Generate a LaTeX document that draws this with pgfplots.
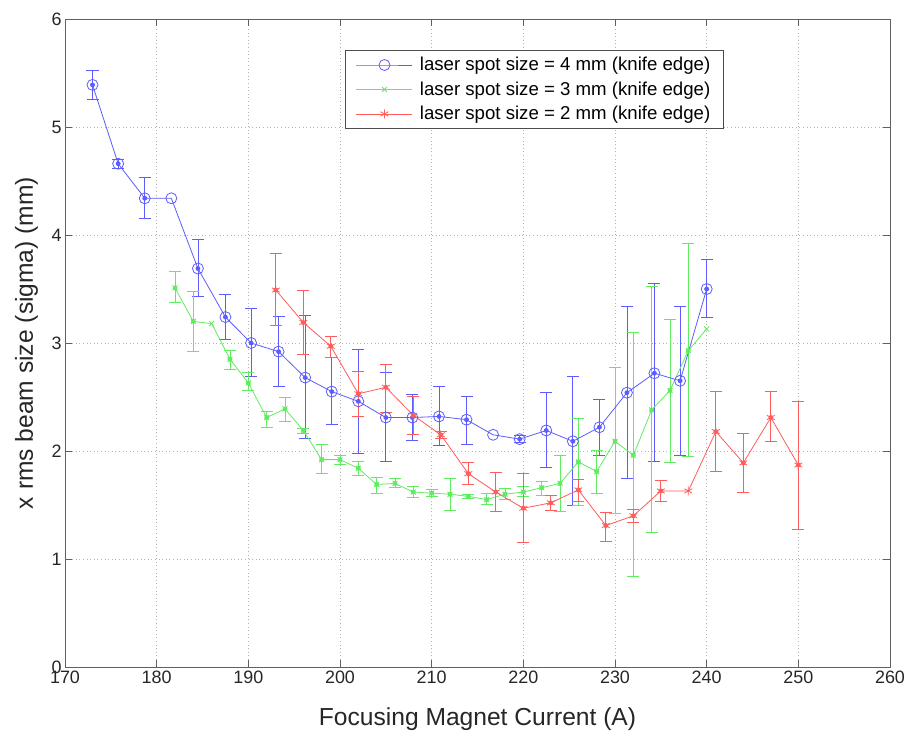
\documentclass[border=0pt]{standalone}
\usepackage{pgfplots}
\usepackage{pgfplotstable}
\pgfplotsset{compat=1.18}
\usepackage{fontspec}
\setmainfont{Liberation Sans}

\definecolor{mblue}{rgb}{0.36,0.36,1}
\definecolor{mgreen}{rgb}{0.38,0.92,0.38}
\definecolor{mred}{rgb}{1,0.36,0.36}

% x y (all points)
\pgfplotstableread{
x y
173 5.39
175.8 4.66
178.7 4.34
181.6 4.34
184.5 3.69
187.5 3.24
190.3 3.00
193.3 2.92
196.2 2.68
199.1 2.55
202 2.46
205 2.31
207.9 2.31
210.8 2.32
213.8 2.29
216.7 2.15
219.6 2.11
222.5 2.19
225.4 2.09
228.3 2.22
231.3 2.54
234.3 2.72
237.1 2.65
240 3.50
}\blueline
\pgfplotstableread{
x y t b
173 5.39 5.52 5.26
175.8 4.66 4.70 4.62
178.7 4.34 4.53 4.15
184.5 3.69 3.96 3.43
187.5 3.24 3.45 3.03
190.3 3.00 3.32 2.69
193.3 2.92 3.25 2.60
196.2 2.68 3.26 2.12
199.1 2.55 2.87 2.25
202 2.46 2.94 1.98
205 2.31 2.73 1.90
207.9 2.31 2.52 2.10
210.8 2.32 2.60 2.05
213.8 2.29 2.51 2.06
219.6 2.11 2.14 2.08
222.5 2.19 2.54 1.85
225.4 2.09 2.69 1.50
228.3 2.22 2.48 1.96
231.3 2.54 3.34 1.75
234.3 2.72 3.55 1.90
237.1 2.65 3.34 1.96
240 3.50 3.77 3.24
}\blueerr

\pgfplotstableread{
x y
182 3.51
184 3.20
186 3.18
188 2.85
190 2.63
192 2.31
194 2.39
196 2.19
198 1.92
200 1.92
202 1.84
204 1.69
206 1.70
208 1.62
210 1.61
212 1.60
214 1.58
216 1.55
218 1.60
220 1.62
222 1.66
224 1.70
226 1.90
228 1.81
230 2.09
232 1.96
234 2.38
236 2.56
238 2.93
240 3.13
}\greenline
\pgfplotstableread{
x y t b
182 3.51 3.66 3.38
184 3.20 3.48 2.92
188 2.85 2.93 2.76
190 2.63 2.73 2.56
192 2.31 2.37 2.22
194 2.39 2.50 2.27
196 2.19 2.21 2.16
198 1.92 2.06 1.79
200 1.92 1.96 1.88
202 1.84 1.90 1.77
204 1.69 1.76 1.61
206 1.70 1.75 1.66
208 1.62 1.67 1.57
210 1.61 1.64 1.58
212 1.60 1.75 1.45
214 1.58 1.60 1.56
216 1.55 1.61 1.51
218 1.60 1.65 1.55
220 1.62 1.67 1.58
222 1.66 1.72 1.59
224 1.70 1.96 1.44
226 1.90 2.30 1.50
228 1.81 2.01 1.61
230 2.09 2.77 1.42
232 1.96 3.10 0.84
234 2.38 3.52 1.25
236 2.56 3.22 1.89
238 2.93 3.92 1.95
}\greenerr

\pgfplotstableread{
x y
193 3.49
196 3.19
199 2.97
202 2.53
205 2.59
208 2.33
211 2.15
214 1.79
217 1.62
220 1.47
223 1.52
226 1.64
229 1.31
232 1.40
235 1.63
238 1.63
241 2.18
244 1.89
247 2.31
250 1.87
}\redline
\pgfplotstableread{
x y t b
193 3.49 3.83 3.16
196 3.19 3.49 2.89
199 2.97 3.06 2.87
202 2.53 2.74 2.32
205 2.59 2.80 2.36
208 2.33 2.51 2.15
211 2.15 2.18 2.12
214 1.79 1.89 1.69
217 1.62 1.80 1.44
220 1.47 1.79 1.15
223 1.52 1.59 1.45
226 1.64 1.74 1.53
229 1.31 1.43 1.16
232 1.40 1.46 1.34
235 1.63 1.73 1.53
241 2.18 2.55 1.81
244 1.89 2.16 1.62
247 2.31 2.55 2.09
250 1.87 2.46 1.27
}\rederr

\begin{document}
\begin{tikzpicture}
\begin{axis}[
  scale only axis, width=825bp, height=648bp,
  xmin=170, xmax=260, ymin=0, ymax=6,
  xtick={170,180,...,260}, ytick={0,1,...,6},
  tick align=inside, major tick length=7bp,
  grid=major, grid style={gray!60, line width=0.8bp, dash pattern=on 0.8bp off 2.8bp},
  axis line style={gray!75!black, line width=0.9bp},
  tick style={gray!75!black, line width=0.9bp},
  tick label style={font=\fontsize{18}{20}\selectfont, black!85},
  /pgf/number format/assume math mode=true,
  label style={font=\fontsize{24.7}{27}\selectfont, black!85},
  xlabel={Focusing Magnet Current (A)},
  ylabel={x rms beam size (sigma) (mm)},
  xlabel style={at={(axis description cs:0.5,0)}, anchor=base, yshift=-58bp},
  ylabel style={at={(axis description cs:-0.0388,0.5)}, anchor=base},
  legend style={at={(0.339,0.952)}, anchor=north west,
    font=\fontsize{18.7}{21}\selectfont, draw=gray!60!black, line width=0.8bp,
    inner xsep=11bp, inner ysep=5bp, row sep=5.5bp},
  legend cell align=left,
  legend image code/.code={\draw[mark repeat=2,mark phase=2,#1] plot coordinates {(0bp,0bp) (28bp,0bp) (56bp,0bp)};},
  every axis plot/.append style={line width=0.8bp},
]
% error bars
\addplot[mblue, only marks, mark=none, forget plot,
  error bars/.cd, y dir=both, y explicit,
  error bar style={draw=mblue, line width=0.8bp},
  error mark options={draw=mblue, rotate=90, mark size=6bp, line width=0.8bp}]
  table[x=x, y=y, y error plus expr=\thisrow{t}-\thisrow{y}, y error minus expr=\thisrow{y}-\thisrow{b}] {\blueerr};
\addplot[mgreen, only marks, mark=none, forget plot,
  error bars/.cd, y dir=both, y explicit,
  error bar style={draw=mgreen, line width=0.8bp},
  error mark options={draw=mgreen, rotate=90, mark size=6bp, line width=0.8bp}]
  table[x=x, y=y, y error plus expr=\thisrow{t}-\thisrow{y}, y error minus expr=\thisrow{y}-\thisrow{b}] {\greenerr};
\addplot[mred, only marks, mark=none, forget plot,
  error bars/.cd, y dir=both, y explicit,
  error bar style={draw=mred, line width=0.8bp},
  error mark options={draw=mred, rotate=90, mark size=6bp, line width=0.8bp}]
  table[x=x, y=y, y error plus expr=\thisrow{t}-\thisrow{y}, y error minus expr=\thisrow{y}-\thisrow{b}] {\rederr};
% lines
\addplot[mblue, mark=o, mark size=5.5bp, mark options={line width=0.8bp}] table[x=x,y=y] {\blueline};
\addlegendentry{\hspace{5bp}laser spot size = 4 mm (knife edge)}
\addplot[mgreen, mark=x, mark size=3.5bp, mark options={line width=0.8bp}] table[x=x,y=y] {\greenline};
\addlegendentry{\hspace{5bp}laser spot size = 3 mm (knife edge)}
\addplot[mred, mark=asterisk, mark size=4.5bp, mark options={line width=0.8bp}] table[x=x,y=y] {\redline};
\addlegendentry{\hspace{5bp}laser spot size = 2 mm (knife edge)}
\end{axis}
\pgfresetboundingbox
\path ([xshift=-65bp,yshift=-66bp]current axis.south west) rectangle ([xshift=18bp,yshift=19bp]current axis.north east);
\end{tikzpicture}
\end{document}
